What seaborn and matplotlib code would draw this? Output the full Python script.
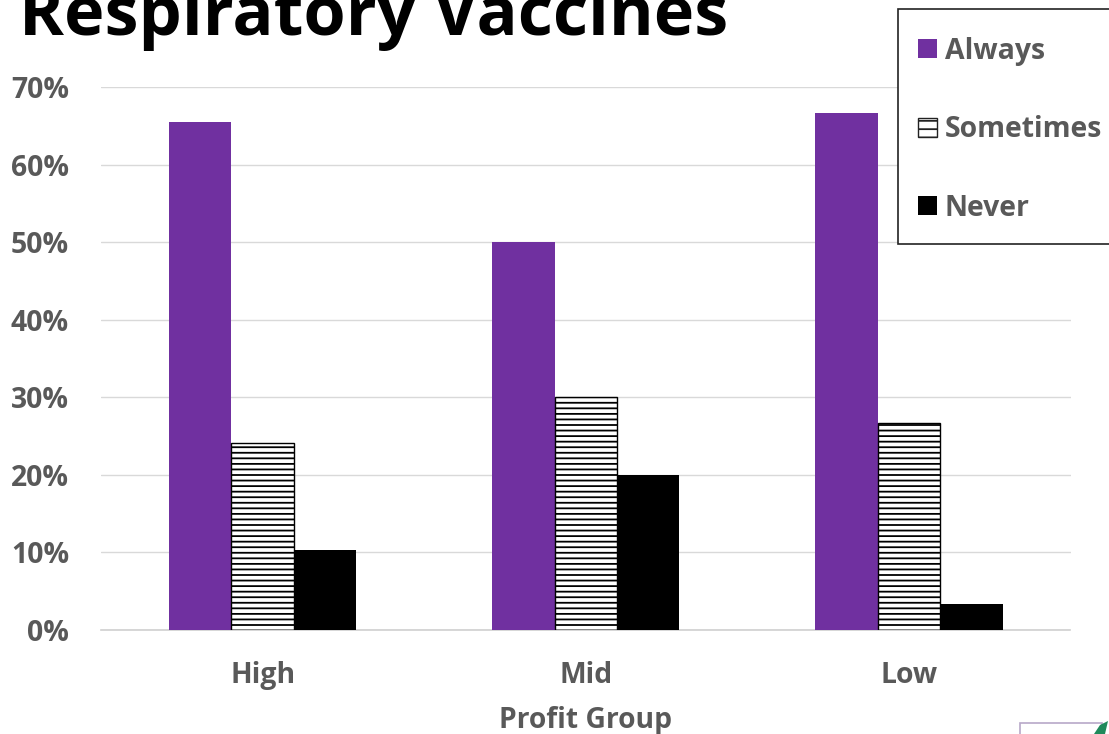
import matplotlib
matplotlib.use("Agg")
import matplotlib.pyplot as plt
from matplotlib.patches import Rectangle, Polygon
import pandas as pd
import seaborn as sns

groups = ["High", "Mid", "Low"]
series = ["Always", "Sometimes", "Never"]
always = [0.655, 0.50, 0.666]
sometimes = [0.241, 0.30, 0.267]
never = [0.103, 0.20, 0.033]
colors = ["#7030A0", "#FFFFFF", "#000000"]
title = "Respiratory Vaccines"
xlabel = "Profit Group"

df = pd.DataFrame({
    "group": groups * 3,
    "series": [s for s in series for _ in groups],
    "value": always + sometimes + never,
})

sns.set_theme(style="white")
plt.rcParams["font.family"] = ["Open Sans", "DejaVu Sans"]
plt.rcParams["hatch.linewidth"] = 1.3
plt.rcParams["hatch.color"] = "black"

W, H = 1109, 734
fig = plt.figure(figsize=(W / 100, H / 100), dpi=100)
ax = fig.add_axes([101 / W, 1 - 630 / H, 969.5 / W, 543 / H])

sns.barplot(data=df, x="group", y="value", hue="series", palette=colors,
            width=0.58, gap=0, saturation=1, ax=ax, legend=True, zorder=3)

for container, name in zip(ax.containers, series):
    for bar in container:
        if name == "Sometimes":
            bar.set_hatch("---")
            bar.set_edgecolor("black")
            bar.set_linewidth(1.0)
        else:
            bar.set_linewidth(0)

ax.set_xlim(-0.5, 2.5)
ax.set_ylim(0, 0.7)
ax.set_yticks([i / 10 for i in range(8)])
ax.set_yticklabels([f"{i * 10}%" for i in range(8)])
ax.grid(axis="y", color="#D9D9D9", lw=1)
ax.set_axisbelow(True)
for s in ["top", "left", "right"]:
    ax.spines[s].set_visible(False)
ax.spines["bottom"].set_color("#D0D0D0")
ax.spines["bottom"].set_linewidth(1.2)
ax.tick_params(axis="both", length=0, labelcolor="#595959", labelsize=20.4)
ax.tick_params(axis="x", pad=22)
ax.tick_params(axis="y", pad=23)
for t in ax.get_xticklabels() + ax.get_yticklabels():
    t.set_fontweight("bold")
ax.set_xlabel(xlabel, fontsize=20.3, fontweight="bold", color="#595959", labelpad=12)
ax.set_ylabel("")

fig.text(19 / W, 1 - 35 / H, title, fontsize=49.2, fontweight="bold", color="black",
         ha="left", va="baseline")

handles, labels = ax.get_legend_handles_labels()
ax.get_legend().remove()
fs = 20.4
fig.add_artist(Rectangle((898 / W, 1 - 244 / H), 230 / W, 235 / H, transform=fig.transFigure,
                         facecolor="white", edgecolor="#222222", lw=1.2, zorder=4))
leg = fig.legend(handles, labels, loc="upper left",
                 bbox_to_anchor=(918 / W, 1 - 36.5 / H), bbox_transform=fig.transFigure,
                 fontsize=fs, frameon=False, labelspacing=1.75, borderpad=0,
                 handlelength=0.67, handleheight=0.67, handletextpad=0.28,
                 borderaxespad=0,
                 prop={"weight": "bold", "size": fs})
leg.set_zorder(5)
for t in leg.get_texts():
    t.set_color("#595959")
leg.legend_handles[0].set_linewidth(0)
leg.legend_handles[1].set_hatch("--")
leg.legend_handles[1].set_edgecolor("#222222")
leg.legend_handles[1].set_linewidth(1.0)
leg.legend_handles[2].set_linewidth(0)

# small logo fragment at the bottom right corner
fig.add_artist(Rectangle((1020 / W, -5 / H), 82 / W, 16 / H, transform=fig.transFigure,
                         fill=False, edgecolor="#B8A8C8", lw=1.2))
fig.add_artist(Polygon([(1094 / W, 0), (1100 / W, 9 / H), (1108 / W, 13 / H), (1105 / W, 0)],
                       transform=fig.transFigure, facecolor="#1F8A5B", edgecolor="none"))

fig.savefig("out.png", dpi=100)
